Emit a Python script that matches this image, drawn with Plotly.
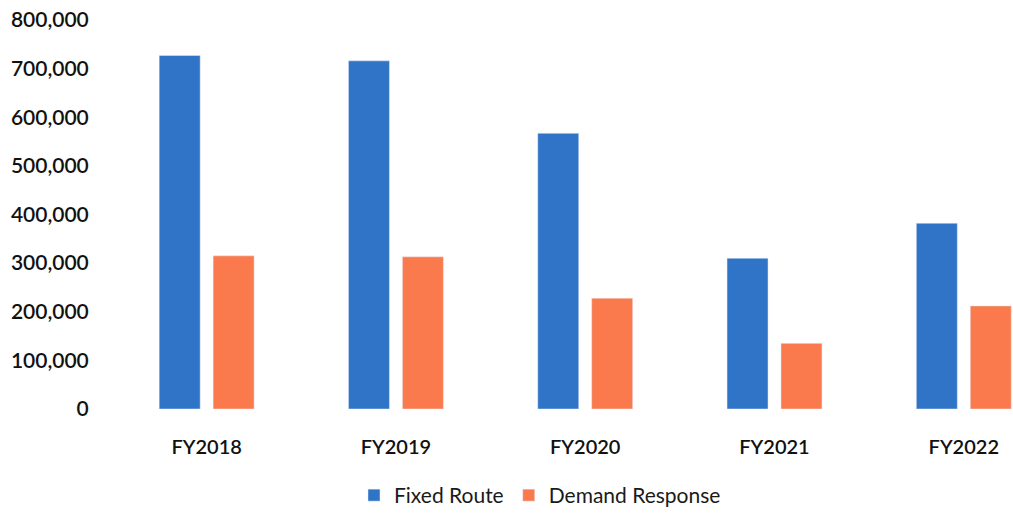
import plotly.graph_objects as go

categories = ["FY2018", "FY2019", "FY2020", "FY2021", "FY2022"]
fixed_route = [727000, 716000, 567000, 310000, 382000]
demand_response = [315000, 313000, 228000, 135000, 212000]
y_ticks = [0, 100000, 200000, 300000, 400000, 500000, 600000, 700000, 800000]
y_tick_labels = ["0", "100,000", "200,000", "300,000", "400,000", "500,000", "600,000", "700,000", "800,000"]

blue = "#2F74C6"
orange = "#FB7A4D"
font_family = "Lato, 'Open Sans', sans-serif"

fig = go.Figure()
fig.add_trace(go.Bar(name="Fixed Route", x=categories, y=fixed_route, marker_color=blue))
fig.add_trace(go.Bar(name="Demand Response", x=categories, y=demand_response, marker_color=orange))

fig.update_layout(
    width=1013, height=516,
    margin=dict(l=112, r=0, t=20, b=107),
    paper_bgcolor="white", plot_bgcolor="white",
    barmode="group", bargap=0.43, bargroupgap=0.24,
    font=dict(family=font_family, color="#111111"),
    showlegend=True,
    legend=dict(orientation="h", x=0.475, xanchor="center", y=-0.223, yanchor="middle",
                font=dict(size=21, color="#1a1a1a"), itemwidth=30, traceorder="normal"),
    xaxis=dict(range=[-0.5, 4.26], showgrid=False, zeroline=False, showline=False,
               ticks="outside", ticklen=20, tickcolor="rgba(0,0,0,0)",
               tickfont=dict(size=20, color="#111111", family=font_family, weight=600)),
    yaxis=dict(range=[0, 800000], tickvals=y_ticks, ticktext=y_tick_labels,
               showgrid=False, zeroline=False, showline=False,
               ticks="outside", ticklen=18, tickcolor="rgba(0,0,0,0)",
               tickfont=dict(size=21, color="#111111", family=font_family, weight=600)),
)

fig.write_html("out.html")
